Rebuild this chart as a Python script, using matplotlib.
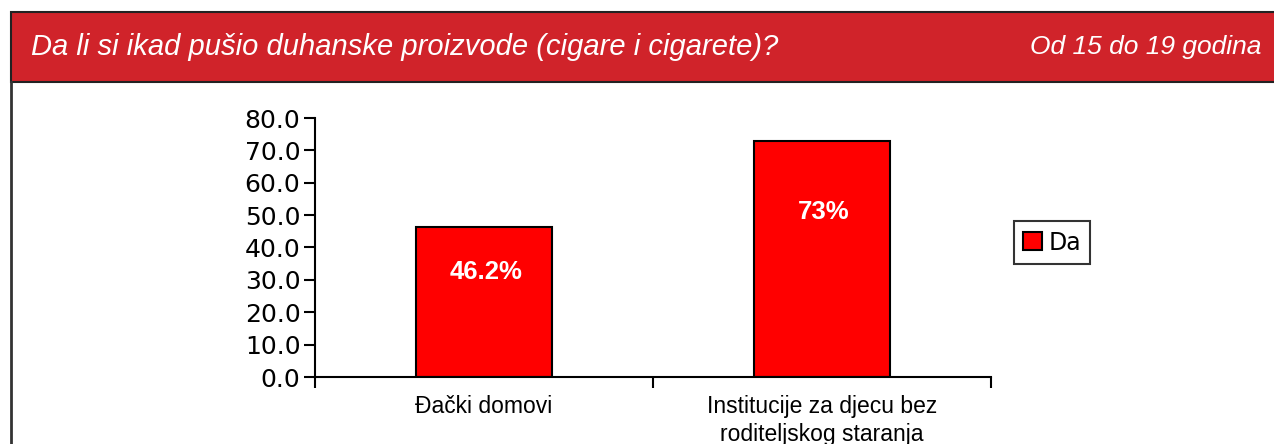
import matplotlib
matplotlib.use("Agg")
import matplotlib.pyplot as plt
from matplotlib.patches import Rectangle
from matplotlib.lines import Line2D

categories = ["Đački domovi", "Institucije za djecu bez\nroditeljskog staranja"]
values = [46.2, 73.0]
value_labels = ["46.2%", "73%"]
series_name = "Da"
yticks = [0, 10, 20, 30, 40, 50, 60, 70, 80]
title = "Da li si ikad pušio duhanske proizvode (cigare i cigarete)?"
subtitle = "Od 15 do 19 godina"

W, H = 1274, 444
fig = plt.figure(figsize=(W / 100, H / 100), dpi=100)
fig.patch.set_facecolor("white")

sans = ["Liberation Sans", "DejaVu Sans"]

# header band
fig.patches.append(Rectangle((11 / W, 1 - 82 / H), (W - 11) / W + 0.01, 70 / H,
                             transform=fig.transFigure, facecolor="#D0232A",
                             edgecolor="#222222", linewidth=1.5, zorder=0))
fig.lines.append(Line2D([11 / W, 11 / W], [0, 1 - 82 / H], transform=fig.transFigure,
                        color="#333333", linewidth=2))
fig.text(31 / W, 1 - 47 / H, title, color="white", fontsize=21, style="italic",
         family="Liberation Sans", ha="left", va="center")
fig.text(1261 / W, 1 - 47 / H, subtitle, color="white", fontsize=19, style="italic",
         family="Liberation Sans", ha="right", va="center")

ax = fig.add_axes([315 / W, 1 - 377 / H, (991 - 315) / W, (377 - 118) / H])
x = range(len(categories))
bars = ax.bar(x, values, width=0.4, color="#FF0000", edgecolor="black",
              linewidth=1.5, label=series_name, zorder=2)
ax.set_xlim(-0.5, len(categories) - 0.5)
ax.set_ylim(0, 80)
ax.set_yticks(yticks)
ax.set_yticklabels([f"{v:.1f}" for v in yticks], fontsize=18, family="DejaVu Sans")
ax.set_xticks([-0.5, 0.5, 1.5])
ax.set_xticklabels([])
ax.set_xticks(list(x), minor=True)
ax.set_xticklabels(categories, minor=True, fontsize=16.5, family=sans, linespacing=1.25)
ax.tick_params(axis="x", which="minor", length=0, pad=13)
ax.tick_params(axis="x", which="major", length=8, width=1.5, direction="out")
ax.tick_params(axis="y", length=8, width=1.5, direction="out", pad=2.5)
for s in ["top", "right"]:
    ax.spines[s].set_visible(False)
for s in ["left", "bottom"]:
    ax.spines[s].set_linewidth(1.5)

for xi, v, lab in zip(x, values, value_labels):
    ax.text(xi + 0.005, v * 0.7, lab, ha="center", va="center", color="white",
            fontsize=18.5, fontweight="bold", family=sans)

leg = fig.legend(handles=[bars], labels=[series_name], loc="center left",
                 bbox_to_anchor=(1014 / W, 1 - 242.5 / H),
                 prop={"family": "DejaVu Sans", "size": 17},
                 handlelength=0.8, handleheight=0.8, handletextpad=0.25,
                 borderpad=0.4, borderaxespad=0, fancybox=False, frameon=True)
leg.get_frame().set_edgecolor("black")
leg.get_frame().set_linewidth(1.5)

fig.savefig("out.png", dpi=100)
